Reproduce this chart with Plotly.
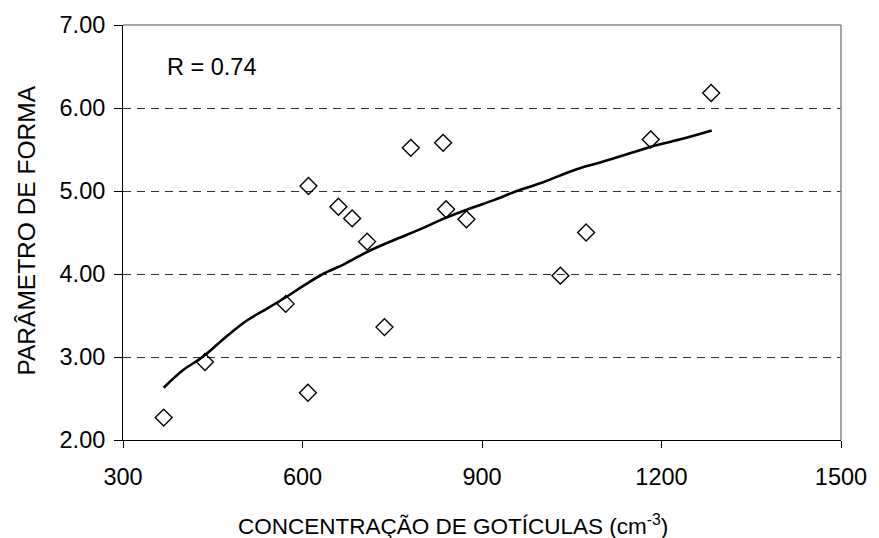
import plotly.graph_objects as go

# Measured droplet concentration (cm^-3) and shape parameter
concentracao = [368, 437, 572, 609, 737, 610, 660, 683, 708, 781, 835, 840, 874, 1031, 1074, 1182, 1283]
parametro = [2.27, 2.94, 3.64, 2.57, 3.36, 5.06, 4.81, 4.67, 4.39, 5.52, 5.58, 4.78, 4.66, 3.98, 4.50, 5.62, 6.18]

# Trend curve samples
curva_x = [368, 400, 433, 470, 507, 540, 572, 600, 634, 670, 712, 760, 800, 837,
           880, 920, 958, 1000, 1057, 1100, 1150, 1185, 1230, 1284]
curva_y = [2.63, 2.84, 3.00, 3.23, 3.44, 3.58, 3.72, 3.85, 4.00, 4.12, 4.28, 4.43, 4.55, 4.67,
           4.79, 4.89, 5.00, 5.10, 5.26, 5.35, 5.46, 5.54, 5.62, 5.73]

x_ticks = [300, 600, 900, 1200, 1500]
y_ticks = [2, 3, 4, 5, 6, 7]
y_tick_text = ["2.00", "3.00", "4.00", "5.00", "6.00", "7.00"]

FONT = "Liberation Sans, Arial, sans-serif"

fig = go.Figure()
fig.add_trace(go.Scatter(
    x=curva_x, y=curva_y, mode="lines",
    line=dict(color="black", width=2.6, shape="spline"),
    hoverinfo="skip", showlegend=False,
))
fig.add_trace(go.Scatter(
    x=concentracao, y=parametro, mode="markers",
    marker=dict(symbol="diamond-open", size=13, color="black", line=dict(width=1.4, color="black")),
    showlegend=False,
))

fig.update_layout(
    width=879, height=538,
    margin=dict(l=123, r=32, t=23, b=98),
    paper_bgcolor="white", plot_bgcolor="white",
    font=dict(family=FONT, size=23, color="black"),
    xaxis=dict(
        range=[300, 1500], tickvals=x_ticks, ticks="outside", ticklen=7, tickwidth=1,
        tickcolor="black", showline=True, linecolor="black", linewidth=1,
        showgrid=False, zeroline=False, tickfont=dict(size=23.5), ticklabelstandoff=9,
    ),
    yaxis=dict(
        range=[2, 7], tickvals=y_ticks, ticktext=y_tick_text, ticks="outside", ticklen=8,
        tickwidth=1, tickcolor="black", showline=True, linecolor="black", linewidth=1,
        showgrid=True, gridcolor="#333333", gridwidth=1, griddash="8px,6px",
        zeroline=False, tickfont=dict(size=23.5), ticklabelstandoff=4,
    ),
    shapes=[
        dict(type="line", xref="paper", yref="paper", x0=0, x1=1, y0=1, y1=1,
             line=dict(color="#888888", width=1.5), layer="above"),
        dict(type="line", xref="paper", yref="paper", x0=1, x1=1, y0=0, y1=1,
             line=dict(color="#888888", width=1.5), layer="above"),
    ],
    annotations=[
        dict(text="R = 0.74", xref="paper", yref="paper", x=0.058, y=0.899,
             xanchor="left", yanchor="middle", showarrow=False, font=dict(size=23.5)),
        dict(text="CONCENTRAÇÃO DE GOTÍCULAS (cm<sup>-3</sup>)", xref="paper", yref="paper",
             x=0.459, y=-0.206, xanchor="center", yanchor="middle", showarrow=False,
             font=dict(size=22.5)),
        dict(text="PARÂMETRO DE FORMA", xref="paper", yref="paper", x=-0.135, y=0.505,
             xanchor="center", yanchor="middle", textangle=-90, showarrow=False,
             font=dict(size=24.5)),
    ],
)

fig.write_html("out.html")
